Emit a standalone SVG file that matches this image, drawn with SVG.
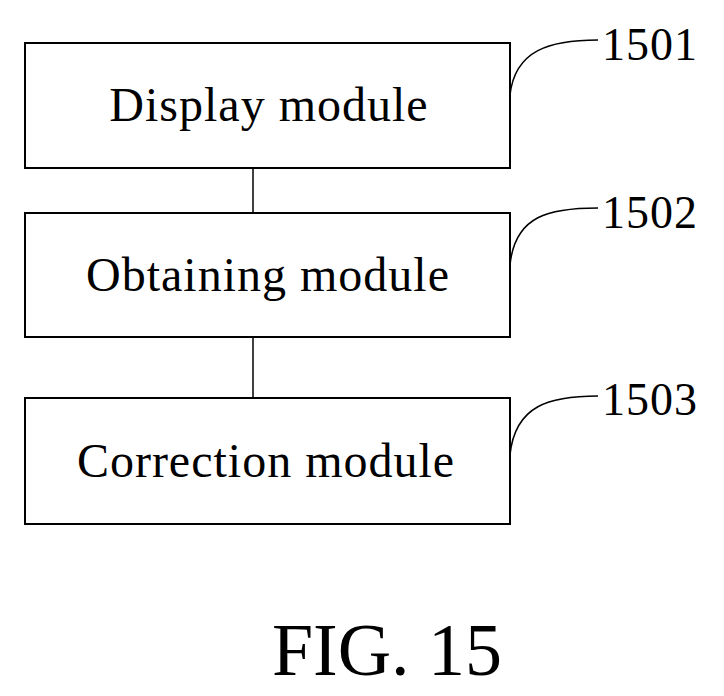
<svg xmlns="http://www.w3.org/2000/svg" width="724" height="696" viewBox="0 0 724 696">
<style>
.box{fill:#fff;stroke:#000;stroke-width:2}
.t{font-family:"Liberation Serif",serif;font-size:48px;letter-spacing:1px;text-anchor:middle;fill:#000}
.n{font-family:"Liberation Serif",serif;font-size:46px;letter-spacing:1px;fill:#000}
.c{fill:none;stroke:#000;stroke-width:1.5}
</style>
<rect width="724" height="696" fill="#fff"/>
<g id="connectors">
<line class="c" x1="253" y1="168" x2="253" y2="213"/>
<line class="c" x1="253" y1="337" x2="253" y2="398"/>
<path class="c" d="M510 95 C515 50 550 40 598 40"/>
<path class="c" d="M510 265 C515 215 550 208 598 208"/>
<path class="c" d="M510 455 C515 405 550 396 598 396"/>
</g>
<g id="n1"><rect class="box" x="25" y="43" width="485" height="125"/><text class="t" x="269" y="121">Display module</text><text class="n" x="602" y="60">1501</text></g>
<g id="n2"><rect class="box" x="25" y="213" width="485" height="124"/><text class="t" x="268" y="291">Obtaining module</text><text class="n" x="602" y="228">1502</text></g>
<g id="n3"><rect class="box" x="25" y="398" width="485" height="126"/><text class="t" x="266" y="477">Correction module</text><text class="n" x="602" y="415">1503</text></g>
<text x="387" y="675" style="font-family:'Liberation Serif',serif;font-size:74px;text-anchor:middle">FIG. 15</text>
</svg>
